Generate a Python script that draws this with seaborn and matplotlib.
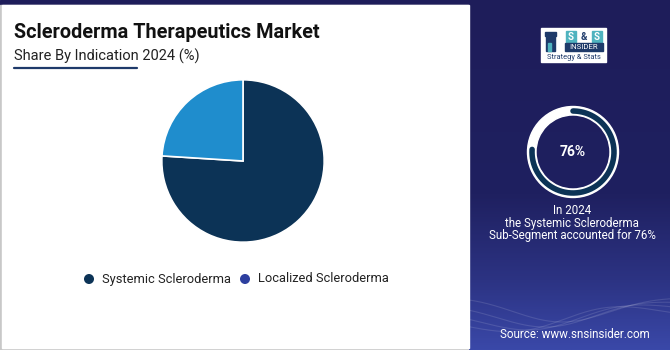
import numpy as np
import matplotlib
matplotlib.use("Agg")
import matplotlib.pyplot as plt
from matplotlib.patches import Rectangle, Circle, Wedge
from matplotlib.colors import LinearSegmentedColormap
import seaborn as sns

# ---- data ----
categories = ["Systemic Scleroderma", "Localized Scleroderma"]
shares = [76, 24]
pie_colors = ["#0c3356", "#1f8dcd"]
legend_colors = ["#0c3356", "#2d3f9f"]
title = "Scleroderma Therapeutics Market"
subtitle = "Share By Indication 2024 (%)"
highlight_pct = 76
callout_lines = ["In 2024", "the Systemic Scleroderma", "Sub-Segment accounted for 76%"]
source = "Source: www.snsinsider.com"

sns.set_theme(style="white")
plt.rcParams["font.family"] = ["Roboto", "DejaVu Sans"]

W, H = 670, 350
fig = plt.figure(figsize=(W / 100, H / 100), dpi=100)
NAVY = "#1e1d5a"

bg = fig.add_axes([0, 0, 1, 1])
bg.set_xlim(0, W)
bg.set_ylim(0, H)
bg.axis("off")
Y = lambda y: H - y

# base
bg.add_patch(Rectangle((0, 0), W, H, color=NAVY, zorder=0))
# white panel with gray left/bottom border
bg.add_patch(Rectangle((0, Y(350)), 469, 345, color="#c8c8c8", zorder=1))
bg.add_patch(Rectangle((2, Y(348)), 467, 343, color="white", zorder=2))

# right panel gradient
cmap = LinearSegmentedColormap.from_list(
    "g", [(0, NAVY), (0.55, "#1f2060"), (0.8, "#2c3383"), (1, "#3a48a8")])
grad = np.linspace(0, 1, 200).reshape(-1, 1)
bg.imshow(grad, extent=[469, W, Y(350), Y(5)], cmap=cmap, aspect="auto",
          origin="upper", zorder=1)
bg.add_patch(Rectangle((469, Y(5)), W - 469, 5, color=NAVY, zorder=1))
# faint waves
xs = np.linspace(469, W, 200)
for k, a in enumerate([0, 6, 12, 18]):
    ys = 300 + a + 22 * np.sin((xs - 469) / 60 + k * 0.5) * np.exp(-(xs - 560) ** 2 / 9000)
    bg.plot(xs, [Y(v) for v in ys], color="white", alpha=0.12, lw=0.8, zorder=2)

# title
bg.text(14, Y(38), title, fontsize=14.3, fontweight="bold", color="#111111", zorder=3)
bg.text(14, Y(61), subtitle, fontsize=10.5, color="#222222", zorder=3)
bg.plot([14, 137], [Y(67.5), Y(67.5)], color="#1e3a6a", lw=1.6, zorder=3)

# pie
r = 82
cx, cy = 243, 161
pax = fig.add_axes([(cx - r) / W, (H - cy - r) / H, 2 * r / W, 2 * r / H])
start = 90 + 360 * shares[1] / 100
pax.pie(shares, colors=pie_colors, startangle=start, counterclock=True,
        wedgeprops=dict(edgecolor="white", linewidth=1.2))
pax.set_xlim(-1.01, 1.01)
pax.set_ylim(-1.01, 1.01)
pax.set_aspect("equal")
pax.axis("off")

# legend
ly = Y(279)
lx = [89, 245]
for x, c, lab in zip(lx, legend_colors, categories):
    bg.add_patch(Circle((x, ly), 4.3, color=c, zorder=3))
    bg.text(x + 13, ly, lab, fontsize=9.3, color="#222222", va="center", zorder=3)

# donut callout
dcx, dcy = 573, Y(152)
bg.add_patch(Wedge((dcx, dcy), 45.5, 0, 360, width=8.5, color="white", zorder=3))
arc_deg = 360 * highlight_pct / 100
th = np.radians(np.linspace(90 - arc_deg, 90, 200))
rr = 41
bg.plot(dcx + rr * np.cos(th), dcy + rr * np.sin(th), color="#0c3356", lw=4.0,
        solid_capstyle="round", zorder=4)
bg.text(dcx, dcy, f"{highlight_pct}%", fontsize=10, fontweight="bold", color="white",
        ha="center", va="center", zorder=4)
bg.text(572, Y(223.5), "\n".join(callout_lines), fontsize=8.3, color="white",
        ha="center", va="center", multialignment="center", linespacing=0.95, zorder=4)

bg.text(575, Y(334), source, fontsize=8.4, color="white", ha="center", va="center", zorder=4)

# logo
bg.add_patch(Rectangle((541, Y(62)), 65, 34, color="white", zorder=3))
# tower icon
bg.add_patch(Rectangle((546, Y(51)), 9, 15, color="#1e3a6a", zorder=4))
bg.add_patch(Rectangle((545, Y(36)), 11, 4, color="#1e3a6a", zorder=4))
bg.add_patch(Rectangle((548, Y(51)), 3, 8, color="#4fb3bf", zorder=5))
# S & S
for x0 in [566, 592]:
    bg.add_patch(Rectangle((x0, Y(42)), 10, 11, color="#4fb3bf", zorder=4))
bg.text(571, Y(36.5), "S", fontsize=7, fontweight="bold", color="white", ha="center", va="center", zorder=5)
bg.text(584, Y(36.5), "&", fontsize=7, fontweight="bold", color="#1e3a6a", ha="center", va="center", zorder=5)
bg.text(597, Y(36.5), "S", fontsize=7, fontweight="bold", color="white", ha="center", va="center", zorder=5)
bg.add_patch(Rectangle((565, Y(51)), 38, 8, color="#1e3a6a", zorder=4))
bg.text(584, Y(47), "INSIDER", fontsize=5.6, color="white", ha="center", va="center", zorder=5)
bg.text(573.5, Y(57.5), "Strategy & Stats", fontsize=5.4, color="#1e3a6a", ha="center", va="center", zorder=5)

fig.savefig("out.png", dpi=100)
